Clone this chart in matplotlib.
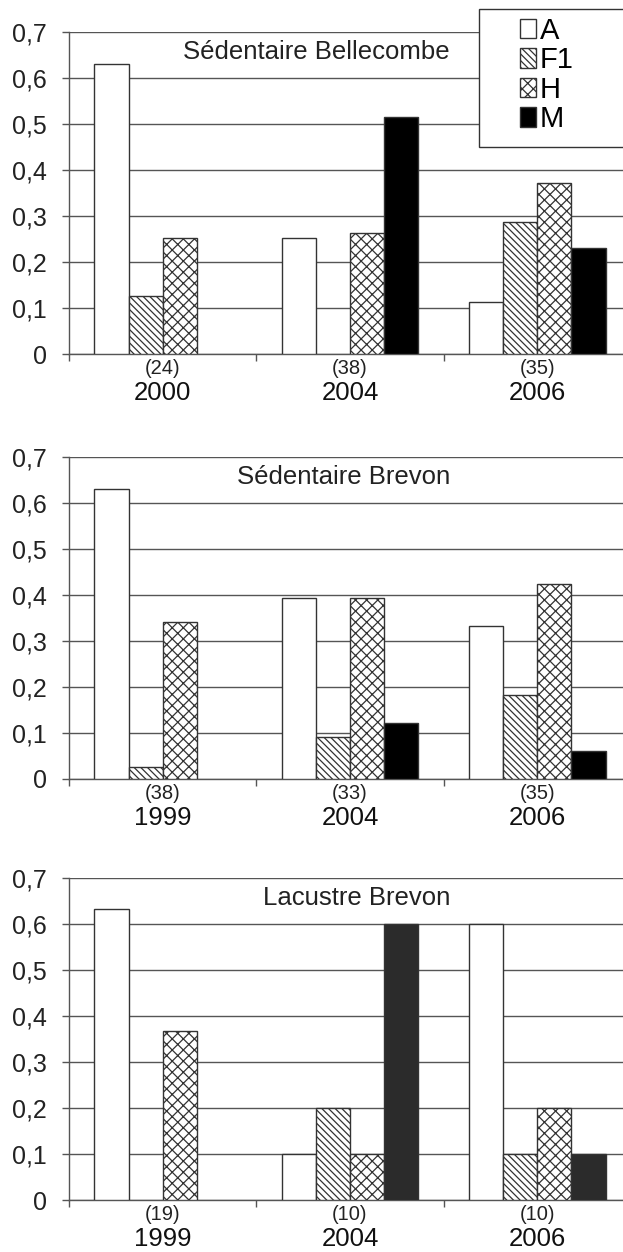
import matplotlib.pyplot as plt
from matplotlib.patches import Patch, Rectangle

plt.rcParams["font.family"] = ["Liberation Sans", "DejaVu Sans"]
plt.rcParams["hatch.linewidth"] = 0.9

genotypes = ["A", "F1", "H", "M"]
panel_titles = ["Sédentaire Bellecombe", "Sédentaire Brevon", "Lacustre Brevon"]
panel_years = [["2000", "2004", "2006"], ["1999", "2004", "2006"], ["1999", "2004", "2006"]]
panel_counts = [["(24)", "(38)", "(35)"], ["(38)", "(33)", "(35)"], ["(19)", "(10)", "(10)"]]
y_ticks = [0, 0.1, 0.2, 0.3, 0.4, 0.5, 0.6, 0.7]
y_tick_labels = ["0", "0,1", "0,2", "0,3", "0,4", "0,5", "0,6", "0,7"]

# frequencies per genotype (A, F1, H, M), one value per year
sed_bellecombe = [
    [0.630, 0.253, 0.113],
    [0.127, 0.0, 0.286],
    [0.252, 0.264, 0.372],
    [0.0, 0.515, 0.230],
]
sed_brevon = [
    [0.631, 0.393, 0.333],
    [0.027, 0.091, 0.182],
    [0.342, 0.394, 0.424],
    [0.0, 0.121, 0.061],
]
lac_brevon = [
    [0.632, 0.100, 0.600],
    [0.0, 0.200, 0.100],
    [0.368, 0.100, 0.200],
    [0.0, 0.600, 0.100],
]
panels = [sed_bellecombe, sed_brevon, lac_brevon]

hatches = [None, "\\\\\\\\\\", "xxx", None]
colors = ["white", "white", "white", "black"]
m_colors = ["black", "black", "#2b2b2b"]
edge = "#333333"
grid_col = "#555555"

W, H = 623, 1252
fig = plt.figure(figsize=(W / 100, H / 100), dpi=100)

ax_left, ax_right = 69, 631
panel_px = [(32, 354), (457, 779), (878, 1200)]
bar_w = 0.182

for p, (top, bottom) in enumerate(panel_px):
    ax = fig.add_axes([ax_left / W, 1 - bottom / H, (ax_right - ax_left) / W, (bottom - top) / H])
    data = panels[p]
    x = range(len(panel_years[p]))
    for g in range(4):
        fc = m_colors[p] if g == 3 else colors[g]
        offs = (g - 1.5) * bar_w
        lws = [1 if v > 0 else 0 for v in data[g]]
        ax.bar([i + offs for i in x], data[g], width=bar_w, color=fc,
               edgecolor=edge, hatch=hatches[g], linewidth=lws, zorder=3)

    ax.set_xlim(-0.5, 2.5)
    ax.set_ylim(0, 0.7)
    ax.set_yticks(y_ticks)
    ax.set_yticklabels(y_tick_labels)
    ax.set_xticks([-0.5, 0.5, 1.5, 2.5])
    ax.set_xticklabels([])
    ax.tick_params(axis="y", length=5, width=1, color=grid_col, labelsize=18,
                   labelcolor="#222222", pad=11)
    ax.tick_params(axis="x", length=5, width=1, color=grid_col)
    ax.yaxis.grid(True, color=grid_col, linewidth=1, zorder=0)
    ax.set_axisbelow(True)
    for s in ["top", "right"]:
        ax.spines[s].set_visible(False)
    for s in ["left", "bottom"]:
        ax.spines[s].set_color(grid_col)
        ax.spines[s].set_linewidth(1)

    for i in x:
        ax.annotate(panel_counts[p][i], xy=(i, 0), xytext=(0, -10.5), textcoords="offset points",
                    ha="center", va="center", fontsize=14.5, color="#222222")
        ax.annotate(panel_years[p][i], xy=(i, 0), xytext=(0, -33), textcoords="offset points",
                    ha="center", va="baseline", fontsize=18.5, color="#111111")

    ax.text((450 - ax_left) / (ax_right - ax_left), 0.656, panel_titles[p],
            transform=ax.get_yaxis_transform(), ha="right", va="center",
            fontsize=18.5, color="#222222", zorder=5)

# legend box, cut by the right border like the original
fig.add_artist(Rectangle((479 / W, 1 - 147 / H), 0.3, 138 / H, transform=fig.transFigure,
                         facecolor="white", edgecolor=edge, linewidth=1, zorder=4))
handles = []
for g in range(4):
    handles.append(Patch(facecolor=colors[g], edgecolor=edge, hatch=hatches[g], linewidth=1))
fig.legend(handles, genotypes, loc="upper left", bbox_to_anchor=(520 / W, 1 - 17 / H),
           frameon=False, fontsize=21, handlelength=0.55, handleheight=0.65,
           handletextpad=0.12, labelspacing=0.05, borderpad=0, borderaxespad=0)

fig.savefig("out.png", dpi=100)
